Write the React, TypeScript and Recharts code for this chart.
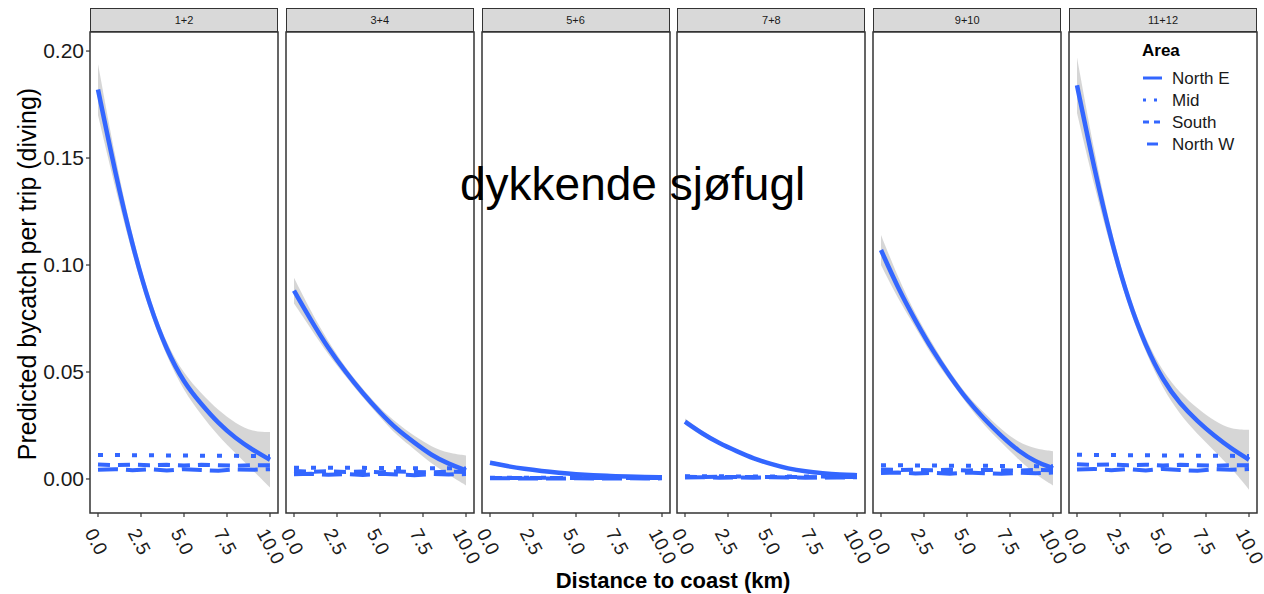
import React from "react";
import {
  ComposedChart,
  Line,
  Area,
  XAxis,
  YAxis,
  ReferenceArea,
  Legend,
} from "recharts";

const FONT = '"Liberation Sans", Arial, Helvetica, sans-serif';
const BLUE = "#3366FF";

const periods = ["1+2", "3+4", "5+6", "7+8", "9+10", "11+12"];
const distance = [0, 1, 2, 3, 4, 5, 6, 7, 8, 9, 10];
const xTicks = [0, 2.5, 5, 7.5, 10];
const yTicks = [0, 0.05, 0.1, 0.15, 0.2];

// North E fitted curve and its confidence band, one row per period
const northE = [
  [0.182, 0.143, 0.109, 0.081, 0.06, 0.045, 0.035, 0.026, 0.019, 0.0135, 0.009],
  [0.088, 0.074, 0.061, 0.05, 0.04, 0.031, 0.023, 0.017, 0.011, 0.007, 0.004],
  [0.0076, 0.006, 0.0047, 0.0037, 0.0029, 0.0022, 0.0017, 0.0014, 0.0011, 0.0009, 0.0008],
  [0.0268, 0.0212, 0.0166, 0.013, 0.0095, 0.007, 0.0048, 0.0035, 0.0027, 0.0021, 0.0018],
  [0.107, 0.089, 0.074, 0.06, 0.048, 0.037, 0.028, 0.02, 0.013, 0.008, 0.005],
  [0.184, 0.145, 0.111, 0.083, 0.062, 0.046, 0.035, 0.027, 0.02, 0.014, 0.009],
];
const northELow = [
  [0.17, 0.136, 0.105, 0.078, 0.057, 0.041, 0.03, 0.02, 0.012, 0.004, -0.004],
  [0.082, 0.07, 0.058, 0.048, 0.038, 0.029, 0.02, 0.014, 0.007, 0.002, -0.003],
  [0.0066, 0.0052, 0.0041, 0.0032, 0.0025, 0.0019, 0.0014, 0.0011, 0.0008, 0.0006, 0.0004],
  [0.0253, 0.02, 0.0157, 0.0123, 0.0089, 0.0065, 0.0044, 0.0031, 0.0023, 0.0016, 0.0012],
  [0.1, 0.084, 0.071, 0.057, 0.046, 0.035, 0.025, 0.017, 0.009, 0.002, -0.003],
  [0.171, 0.137, 0.107, 0.08, 0.059, 0.042, 0.03, 0.021, 0.013, 0.005, -0.005],
];
const northEHigh = [
  [0.194, 0.15, 0.113, 0.084, 0.063, 0.049, 0.04, 0.032, 0.026, 0.022, 0.022],
  [0.094, 0.078, 0.064, 0.052, 0.042, 0.033, 0.026, 0.02, 0.015, 0.012, 0.011],
  [0.0086, 0.0068, 0.0053, 0.0042, 0.0033, 0.0025, 0.002, 0.0017, 0.0014, 0.0012, 0.0012],
  [0.0283, 0.0224, 0.0175, 0.0137, 0.0101, 0.0075, 0.0052, 0.0039, 0.0031, 0.0026, 0.0024],
  [0.114, 0.094, 0.077, 0.063, 0.05, 0.039, 0.031, 0.023, 0.017, 0.014, 0.013],
  [0.197, 0.153, 0.115, 0.086, 0.065, 0.05, 0.04, 0.033, 0.027, 0.023, 0.023],
];

// the three near-flat areas
const mid = [
  [0.0112, 0.0112, 0.0111, 0.0111, 0.011, 0.011, 0.0109, 0.0109, 0.0108, 0.0107, 0.0106],
  [0.0053, 0.0053, 0.0052, 0.0052, 0.0052, 0.0051, 0.0051, 0.005, 0.005, 0.005, 0.0049],
  [0.0006, 0.0006, 0.0006, 0.0006, 0.0005, 0.0005, 0.0005, 0.0005, 0.0005, 0.0005, 0.0005],
  [0.0013, 0.0013, 0.0013, 0.0012, 0.0012, 0.0012, 0.0012, 0.0012, 0.0011, 0.0011, 0.0011],
  [0.0064, 0.0064, 0.0063, 0.0063, 0.0062, 0.0062, 0.0062, 0.0061, 0.0061, 0.006, 0.006],
  [0.0113, 0.0112, 0.0112, 0.0111, 0.0111, 0.011, 0.011, 0.0109, 0.0108, 0.0108, 0.0107],
];
const south = [
  [0.0068, 0.0065, 0.0067, 0.0064, 0.0066, 0.0063, 0.0066, 0.0064, 0.0062, 0.0065, 0.0064],
  [0.0037, 0.0034, 0.0036, 0.0033, 0.0035, 0.0032, 0.0035, 0.0033, 0.0031, 0.0034, 0.0033],
  [0.0004, 0.0004, 0.0004, 0.0004, 0.0004, 0.0004, 0.0004, 0.0004, 0.0004, 0.0004, 0.0004],
  [0.001, 0.0009, 0.001, 0.0009, 0.0009, 0.0009, 0.0009, 0.0009, 0.0008, 0.0009, 0.0009],
  [0.0044, 0.0042, 0.0043, 0.0041, 0.0043, 0.004, 0.0042, 0.0041, 0.0039, 0.0042, 0.0041],
  [0.0069, 0.0066, 0.0068, 0.0064, 0.0067, 0.0063, 0.0066, 0.0064, 0.0062, 0.0065, 0.0064],
];
const northW = [
  [0.0043, 0.0046, 0.0041, 0.0045, 0.004, 0.0046, 0.0042, 0.0038, 0.0045, 0.0043, 0.0046],
  [0.0022, 0.0024, 0.002, 0.0023, 0.0019, 0.0024, 0.0021, 0.0018, 0.0023, 0.0021, 0.0023],
  [0.0003, 0.0003, 0.0002, 0.0003, 0.0002, 0.0003, 0.0002, 0.0002, 0.0003, 0.0002, 0.0003],
  [0.0007, 0.0008, 0.0006, 0.0007, 0.0006, 0.0008, 0.0007, 0.0006, 0.0007, 0.0007, 0.0008],
  [0.0028, 0.003, 0.0026, 0.0029, 0.0025, 0.003, 0.0027, 0.0024, 0.0029, 0.0027, 0.003],
  [0.0044, 0.0047, 0.0041, 0.0046, 0.004, 0.0047, 0.0042, 0.0038, 0.0046, 0.0043, 0.0047],
];

const legendItems = [
  { name: "North E", dash: "", short: false },
  { name: "Mid", dash: "3 8", short: false },
  { name: "South", dash: "6 5", short: false },
  { name: "North W", dash: "", short: true },
];

const X_DOMAIN: [number, number] = [-0.465, 10.465];
const Y_DOMAIN: [number, number] = [-0.0159, 0.2089];
const PANEL_W = 188;
const PANEL_STEP = 195.8;
const FIRST_LEFT = 90;
const AXIS_W = 90;
const LEFT_PAD = 16;
const RIGHT_PAD = 30;

function RotTick(props: any) {
  const { x, y, payload } = props;
  const ax = x - 8;
  const ay = y + 11;
  return (
    <text
      x={ax}
      y={ay}
      transform={`rotate(62, ${ax}, ${ay})`}
      textAnchor="start"
      dominantBaseline="central"
      fontSize={19}
      fontFamily={FONT}
      fill="#1a1a1a"
    >
      {Number(payload.value).toFixed(1)}
    </text>
  );
}

function AreaLegend() {
  return (
    <svg width={130} height={130} style={{ overflow: "visible" }}>
      <text x={3} y={20} fontSize={17} fontWeight="bold" fontFamily={FONT} fill="#000">
        Area
      </text>
      {legendItems.map((it, i) => {
        const cy = 42 + i * 22;
        return (
          <g key={it.name}>
            <line
              x1={it.short ? 8 : 4}
              x2={it.short ? 19 : 23}
              y1={cy}
              y2={cy}
              stroke={BLUE}
              strokeWidth={3}
              strokeDasharray={it.dash || undefined}
            />
            <text x={33} y={cy + 6} fontSize={17} fontFamily={FONT} fill="#1a1a1a">
              {it.name}
            </text>
          </g>
        );
      })}
    </svg>
  );
}

function Panel({ idx }: { idx: number }) {
  const rows = distance.map((d, j) => ({
    x: d,
    ne: northE[idx][j],
    band: [northELow[idx][j], northEHigh[idx][j]],
    mid: mid[idx][j],
    south: south[idx][j],
    nw: northW[idx][j],
  }));
  const panelLeft = FIRST_LEFT + idx * PANEL_STEP;
  const first = idx === 0;
  const leftPad = first ? 0 : LEFT_PAD;
  const chartLeft = first ? panelLeft - AXIS_W : panelLeft - leftPad;
  const width = (first ? PANEL_W + AXIS_W : PANEL_W + leftPad) + RIGHT_PAD;

  return (
    <>
      <div style={{ position: "absolute", left: chartLeft, top: 8 }}>
        <ComposedChart
          width={width}
          height={586}
          data={rows}
          margin={{ top: 24, right: RIGHT_PAD, bottom: 0, left: leftPad }}
        >
          <XAxis
            dataKey="x"
            type="number"
            domain={X_DOMAIN}
            ticks={xTicks}
            interval={0}
            allowDataOverflow
            axisLine={false}
            tickSize={4}
            tickLine={{ stroke: "#333", strokeWidth: 1.2 }}
            height={81}
            tick={<RotTick />}
          />
          <YAxis
            type="number"
            domain={Y_DOMAIN}
            ticks={yTicks}
            allowDataOverflow
            hide={!first}
            width={first ? AXIS_W : 0}
            axisLine={false}
            tickSize={4}
            tickLine={{ stroke: "#333", strokeWidth: 1.2 }}
            tickFormatter={(v: number) => v.toFixed(2)}
            tick={{ fontSize: 21, fontFamily: FONT, fill: "#1a1a1a" }}
          />
          <Area
            dataKey="band"
            type="basis"
            stroke="none"
            fill="#999999"
            fillOpacity={0.4}
            isAnimationActive={false}
          />
          <Line dataKey="mid" type="linear" stroke={BLUE} strokeWidth={4} strokeDasharray="5 12" dot={false} isAnimationActive={false} />
          <Line dataKey="south" type="linear" stroke={BLUE} strokeWidth={4} strokeDasharray="12 8" dot={false} isAnimationActive={false} />
          <Line dataKey="nw" type="linear" stroke={BLUE} strokeWidth={4} strokeDasharray="20 8" dot={false} isAnimationActive={false} />
          <Line dataKey="ne" type="basis" stroke={BLUE} strokeWidth={4.5} dot={false} isAnimationActive={false} />
          <ReferenceArea
            x1={X_DOMAIN[0]}
            x2={X_DOMAIN[1]}
            y1={Y_DOMAIN[0]}
            y2={Y_DOMAIN[1]}
            fill="none"
            stroke="#333"
            strokeWidth={1.5}
          />
          {idx === 5 && (
            <Legend
              layout="horizontal"
              verticalAlign="middle"
              align="center"
              content={() => <AreaLegend />}
              wrapperStyle={{ left: 70 + LEFT_PAD, top: 28, width: 130, height: 130 }}
            />
          )}
        </ComposedChart>
      </div>
      <div
        style={{
          position: "absolute",
          left: panelLeft,
          top: 8,
          width: PANEL_W,
          height: 24,
          boxSizing: "border-box",
          border: "1.5px solid #333",
          background: "#d9d9d9",
          fontFamily: FONT,
          fontSize: 11,
          color: "#1a1a1a",
          display: "flex",
          alignItems: "center",
          justifyContent: "center",
        }}
      >
        {periods[idx]}
      </div>
    </>
  );
}

export default function App() {
  return (
    <div
      style={{
        position: "absolute",
        left: 0,
        top: 0,
        width: 1264,
        height: 594,
        background: "#fff",
        overflow: "hidden",
      }}
    >
      {periods.map((_, i) => (
        <Panel key={i} idx={i} />
      ))}
      <svg
        width={1264}
        height={594}
        style={{ position: "absolute", left: 0, top: 0, pointerEvents: "none" }}
      >
        <text
          x={27}
          y={274}
          transform="rotate(-90, 27, 274)"
          textAnchor="middle"
          dominantBaseline="central"
          fontSize={25}
          fontFamily={FONT}
          fill="#000"
        >
          Predicted bycatch per trip (diving)
        </text>
        <text
          x={673}
          y={588}
          textAnchor="middle"
          fontSize={22}
          fontWeight="bold"
          fontFamily={FONT}
          fill="#000"
        >
          Distance to coast (km)
        </text>
        <text x={460} y={200} fontSize={46} fontFamily={FONT} fill="#000">
          dykkende sjøfugl
        </text>
      </svg>
    </div>
  );
}
